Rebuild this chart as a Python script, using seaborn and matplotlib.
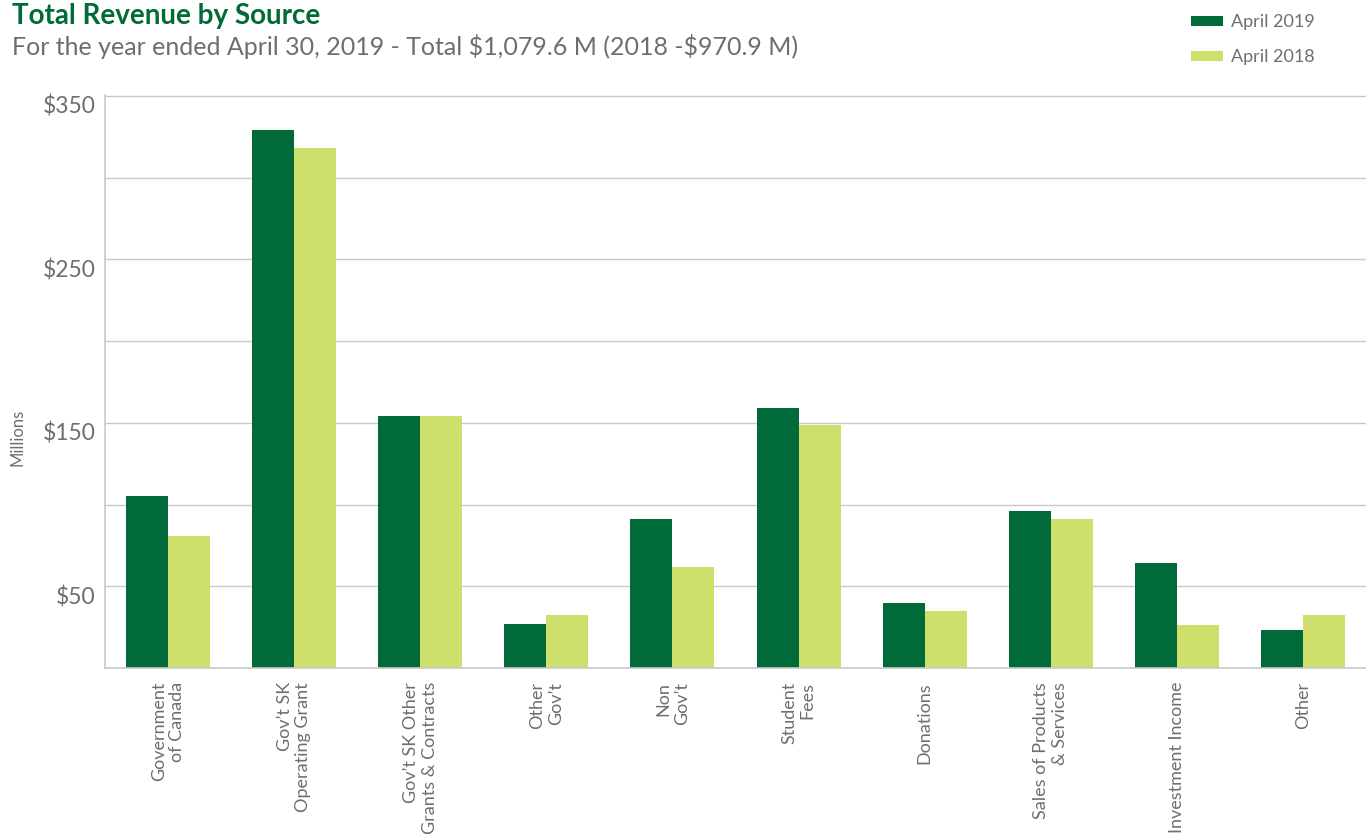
import pandas as pd
import matplotlib.pyplot as plt
import seaborn as sns
from matplotlib.patches import Patch

categories = ["Government\nof Canada", "Gov’t SK\nOperating Grant",
              "Gov’t SK Other\nGrants & Contracts", "Other\nGov’t", "Non\nGov’t",
              "Student\nFees", "Donations", "Sales of Products\n& Services",
              "Investment Income", "Other"]
rev_2019 = [105, 329, 154, 27, 91, 159, 40, 96, 64, 23]
rev_2018 = [81, 318, 154, 32.5, 62, 148.5, 35, 91, 26, 32.5]
years = ["April 2019", "April 2018"]
ytick_vals = [50, 100, 150, 200, 250, 300, 350]
ytick_labels = ["$50", "", "$150", "", "$250", "", "$350"]

dark_green = "#006a38"
light_green = "#cfdf6c"
grey_text = "#6d6e71"
grid_grey = "#c9c9c9"

sns.set_style("white")
plt.rcParams["font.family"] = ["Lato", "DejaVu Sans"]

df = pd.DataFrame({
    "source": categories * 2,
    "revenue": rev_2019 + rev_2018,
    "year": [years[0]] * len(categories) + [years[1]] * len(categories),
})

fig = plt.figure(figsize=(13.66, 8.38), dpi=100)
ax = fig.add_axes([105 / 1366, 170 / 838, 1 - 105 / 1366, 573 / 838])

sns.barplot(data=df, x="source", y="revenue", hue="year", hue_order=years,
            palette=[dark_green, light_green], width=2 / 3, saturation=1,
            linewidth=0, legend=False, ax=ax)

ax.set_ylim(0, 350.5)
ax.set_xlim(-0.5, 9.5)
ax.set_yticks(ytick_vals)
ax.set_yticklabels(ytick_labels, fontsize=16.5, color=grey_text)
for lab in ax.get_yticklabels():
    lab.set_va("top")
ax.yaxis.grid(True, color=grid_grey, linewidth=1)
ax.set_axisbelow(True)
ax.tick_params(axis="y", length=0, pad=7)

ax.set_xticks(range(len(categories)))
ax.set_xticklabels(categories, rotation=90, fontsize=13, color=grey_text,
                   va="top", ha="center")
for lab in ax.get_xticklabels():
    lab.set_multialignment("right")
ax.tick_params(axis="x", which="major", length=0, pad=10)
ax.set_xticks([i + 0.5 for i in range(len(categories) - 1)], minor=True)
ax.tick_params(axis="x", which="minor", length=24, width=1, color=grid_grey)

ax.set_xlabel("")
ax.set_ylabel("")
for side in ["top", "right"]:
    ax.spines[side].set_visible(False)
for side in ["left", "bottom"]:
    ax.spines[side].set_color(grid_grey)
    ax.spines[side].set_linewidth(1.2)

fig.text(18 / 1366, 1 - 437 / 838, "Millions", rotation=90, fontsize=12,
         color=grey_text, ha="center", va="center")

fig.text(12 / 1366, 1 - 3 / 838, "Total Revenue by Source", fontsize=20,
         fontweight="bold", color=dark_green, ha="left", va="top")
fig.text(12 / 1366, 1 - 34 / 838,
         "For the year ended April 30, 2019 - Total $1,079.6 M (2018 -$970.9 M)",
         fontsize=18, color=grey_text, ha="left", va="top", parse_math=False)

handles = [Patch(color=dark_green, linewidth=0), Patch(color=light_green, linewidth=0)]
fig.legend(handles, years, loc="upper left",
           bbox_to_anchor=(1175 / 1366, 1 + 2 / 838), frameon=False,
           fontsize=13, handlelength=1.75, handleheight=0.45, labelspacing=1.05,
           handletextpad=0.45, labelcolor=grey_text)

fig.savefig("out.png", dpi=100)
